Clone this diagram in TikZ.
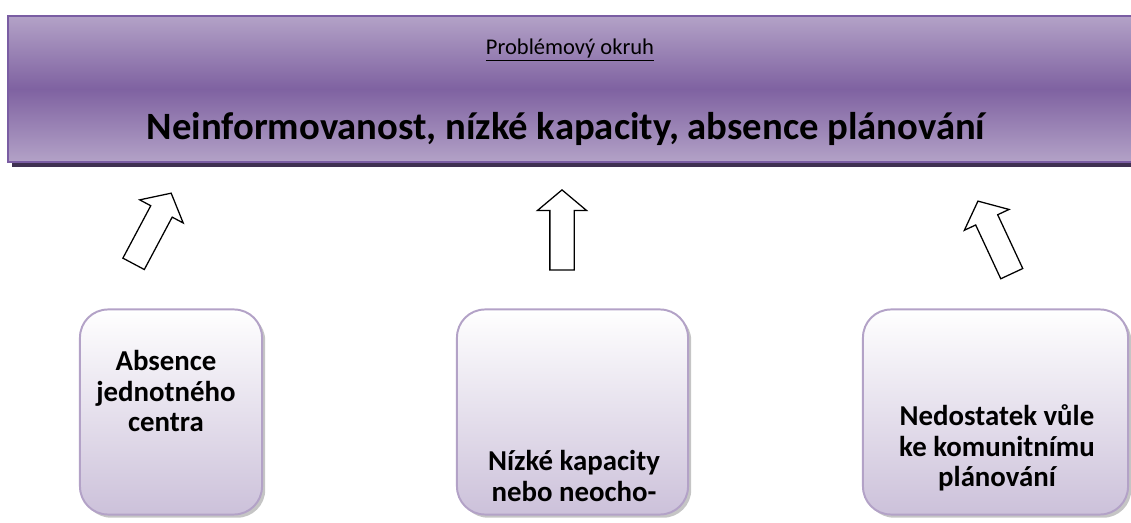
\documentclass[tikz,border=0pt]{standalone}
\usepackage{fontspec}
\setmainfont{Carlito}
\usetikzlibrary{shapes.arrows,shadows}

\definecolor{bandlight}{HTML}{B3A2C7}
\definecolor{banddark}{HTML}{7F62A1}
\definecolor{bandedge}{HTML}{7A5DA3}
\definecolor{bandshadow}{HTML}{3F3151}
\definecolor{causeedge}{HTML}{B3A2C7}
\definecolor{causefill}{HTML}{CCC1DA}

\tikzset{
  bandbox/.style={draw=bandedge, line width=1.4pt, minimum width=28.3cm,
    minimum height=3.65cm, top color=bandlight, bottom color=bandlight,
    middle color=banddark},
  causebox/.style={draw=causeedge, line width=1.4pt, rounded corners=0.7cm,
    top color=white, bottom color=causefill, minimum height=5.125cm,
    drop shadow={shadow xshift=0.08cm, shadow yshift=-0.08cm, fill=black!45}},
  causetext/.style={font=\fontsize{20.5}{21.5}\selectfont\bfseries, align=center},
  blockarrow/.style={single arrow, draw=black, line width=0.9pt, fill=white,
    minimum height=2cm, inner sep=0.2875cm, single arrow head extend=0.3125cm,
    single arrow tip angle=100},
}

\begin{document}
\begin{tikzpicture}[x=0.025cm,y=-0.025cm]
  \useasboundingbox (0,0) rectangle (1131,523);
  % problem band
  \fill[bandshadow] (12,160) rectangle (1140,167);
  \node[bandbox] (band) at (574,89) {};
  \node[font=\fontsize{16}{19}\selectfont] (okruh) at (570,50) {\underline{Problémový okruh}};
  \node[font=\fontsize{27.5}{32}\selectfont\bfseries] (problem) at (566,129)
    {Neinformovanost, nízké kapacity, absence plánování};

  % causes
  \node[causebox, minimum width=4.55cm] (centrum) at (171,412) {};
  \node[causebox, minimum width=5.775cm] (kapacity) at (572.5,412) {};
  \node[causebox, minimum width=6.625cm] (vule) at (995.5,412) {};
  \node[causetext] (centrumtext) at (166,391) {Absence\\jednotného\\centra};
  \node[causetext] (kapacitytext) at (574,476) {Nízké kapacity\\nebo neocho-};
  \node[causetext] (vuletext) at (997,448) {Nedostatek vůle\\ke komunitnímu\\plánování};

  % arrows
  \node[blockarrow, rotate=62] (a1) at (150,233) {};
  \node[blockarrow, rotate=90] (a2) at (562,235) {};
  \node[blockarrow, rotate=115] (a3) at (997,242) {};
\end{tikzpicture}
\end{document}
